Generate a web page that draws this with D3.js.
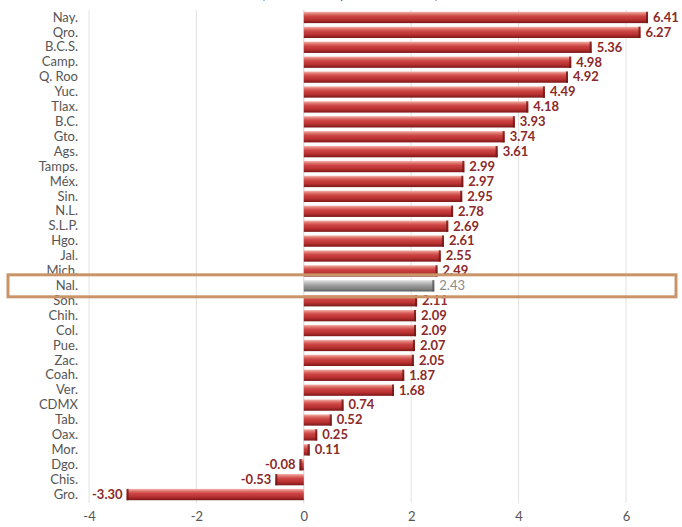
<!DOCTYPE html>
<html><head><meta charset="utf-8">
<script src="https://cdn.jsdelivr.net/npm/d3@7"></script>
<style>html,body{margin:0;padding:0;background:#fff;overflow:hidden}</style>
</head><body>
<svg id="c" width="682" height="527"></svg>
<script>
const categories = ["Nay.","Qro.","B.C.S.","Camp.","Q. Roo","Yuc.","Tlax.","B.C.","Gto.","Ags.","Tamps.","Méx.","Sin.","N.L.","S.L.P.","Hgo.","Jal.","Mich.","Nal.","Son.","Chih.","Col.","Pue.","Zac.","Coah.","Ver.","CDMX","Tab.","Oax.","Mor.","Dgo.","Chis.","Gro."];
const values = [6.41,6.27,5.36,4.98,4.92,4.49,4.18,3.93,3.74,3.61,2.99,2.97,2.95,2.78,2.69,2.61,2.55,2.49,2.43,2.11,2.09,2.09,2.07,2.05,1.87,1.68,0.74,0.52,0.25,0.11,-0.08,-0.53,-3.30];
const xTicks = [-4,-2,0,2,4,6];
const highlight = "Nal.";
const titleText = "(Variación % promedio anual)";

const data = categories.map((c,i)=>({cat:c, v:values[i]}));
const svg = d3.select("#c");
const x = d3.scaleLinear().domain([-4,6]).range([89,626]);
const y = d3.scaleBand().domain(categories).range([10,502]).paddingInner(0.24).paddingOuter(0.12);

const defs = svg.append("defs");
function grad(id, stops){
  const g = defs.append("linearGradient").attr("id",id).attr("x1",0).attr("y1",0).attr("x2",0).attr("y2",1);
  stops.forEach(s=>g.append("stop").attr("offset",s[0]).attr("stop-color",s[1]));
}
grad("gr",[[0,"#f3b8b0"],[0.18,"#e07870"],[0.4,"#cc4444"],[0.7,"#b83030"],[1,"#7a1818"]]);
grad("gg",[[0,"#e4e4e4"],[0.2,"#c4c4c4"],[0.5,"#9a9a9a"],[0.8,"#808080"],[1,"#5a5a5a"]]);

// title (cropped at top, as in the reference)
svg.append("text").attr("x",350).attr("y",-1).attr("text-anchor","middle")
  .attr("font-family","Lato, sans-serif").attr("font-size",14).attr("fill","#666").text(titleText);

// gridlines
svg.append("g").selectAll("line").data(xTicks).join("line")
  .attr("x1",d=>x(d)).attr("x2",d=>x(d)).attr("y1",10).attr("y2",503)
  .attr("stroke",d=>d===0?"#d4d4d4":"#e2e2e2").attr("stroke-width",1);

// x axis tick labels
const ax = svg.append("g").attr("transform","translate(0,508)")
  .call(d3.axisBottom(x).tickValues(xTicks).tickSize(0).tickPadding(4).tickFormat(d=>String(d)));
ax.select(".domain").remove();
ax.selectAll("text").attr("font-family","Lato, sans-serif").attr("font-size",13).attr("fill","#555");

// category labels
const ay = svg.append("g").attr("transform","translate(80,0)")
  .call(d3.axisLeft(y).tickSize(0).tickPadding(2));
ay.select(".domain").remove();
ay.selectAll("text").attr("font-family","Lato, sans-serif").attr("font-size",13).attr("fill","#555");

// bars
const bh = y.bandwidth();
svg.append("g").selectAll("rect").data(data).join("rect")
  .attr("x",d=>Math.min(x(0),x(d.v))).attr("width",d=>Math.abs(x(d.v)-x(0)))
  .attr("y",d=>y(d.cat)).attr("height",bh)
  .attr("fill",d=>d.cat===highlight?"url(#gg)":"url(#gr)");
// end caps (3D look)
svg.append("g").selectAll("rect").data(data).join("rect")
  .attr("x",d=>d.v>=0?x(d.v)-2:x(d.v)).attr("width",2)
  .attr("y",d=>y(d.cat)).attr("height",bh)
  .attr("fill",d=>d.cat===highlight?"#555":"#6e1515").attr("opacity",0.8);

// value labels
const fmt = d=>d3.format(".2f")(d).replace("−","-");
svg.append("g").selectAll("text").data(data).join("text")
  .attr("x",d=>d.v>=0?x(d.v)+5:x(d.v)-4)
  .attr("y",d=>y(d.cat)+bh/2+1)
  .attr("dominant-baseline","middle")
  .attr("text-anchor",d=>d.v>=0?"start":"end")
  .attr("font-family","Lato, sans-serif").attr("font-size",13).attr("font-weight",d=>d.cat===highlight?"normal":"bold")
  .attr("fill",d=>d.cat===highlight?"#8a8a8a":"#8b2a2a")
  .text(d=>fmt(d.v));

// highlight frame
const hc = y(highlight)+bh/2;
svg.append("rect").attr("x",8).attr("y",hc-11).attr("width",668).attr("height",22)
  .attr("fill","none").attr("stroke","#c99468").attr("stroke-width",3);
</script>
</body></html>
